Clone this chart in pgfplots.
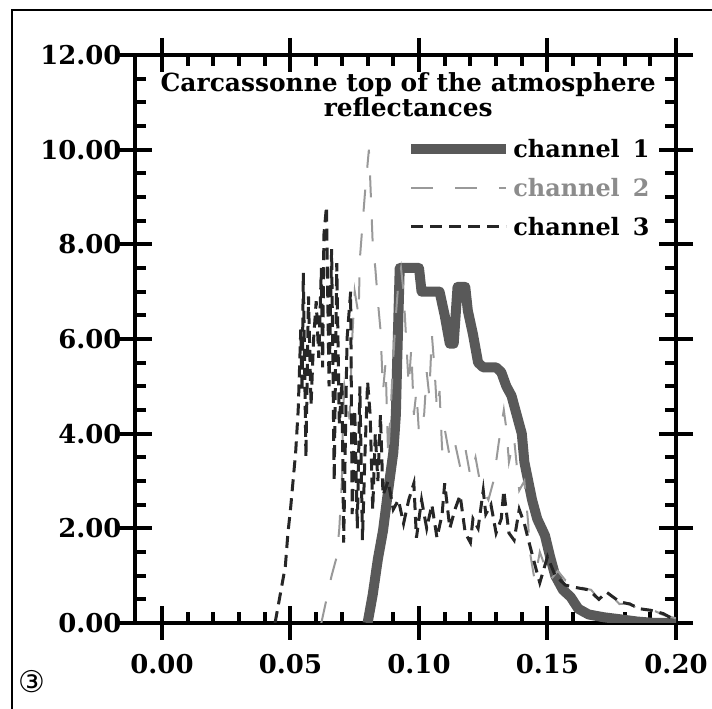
\documentclass[border=0pt]{standalone}
\usepackage{fontspec}
\setmainfont{DejaVu Serif}
\newfontfamily\symfont{DejaVu Sans}
\usepackage{pgfplots}
\pgfplotsset{compat=1.18}
\begin{document}
\begin{tikzpicture}
\useasboundingbox (0bp,0bp) rectangle (712bp,709bp);
\draw[line width=1.5bp] (12bp,0bp) -- (12bp,699bp) -- (712bp,699bp);
\node[font=\symfont\fontsize{30}{30}\selectfont] at (32bp,27bp) {③};
\begin{axis}[
  at={(135bp,86bp)}, anchor=south west, scale only axis,
  width=541bp, height=568bp,
  xmin=-0.0105, xmax=0.2, ymin=0, ymax=12,
  xtick={0,0.05,0.1,0.15,0.2},
  ytick={0,2,4,6,8,10,12},
  minor x tick num=4, minor y tick num=3,
  tick align=inside,
  major tick length=17bp, minor tick length=11bp,
  extra x ticks={0,0.05,0.1,0.15,0.2}, extra x tick labels={},
  extra y ticks={0,2,4,6,8,10,12}, extra y tick labels={},
  extra x tick style={tick align=outside, major tick length=17bp},
  extra y tick style={tick align=outside, major tick length=17bp},
  axis line style={line width=4bp},
  tick style={black, line width=4bp},
  /pgf/number format/assume math mode=true,
  /pgf/number format/fixed, /pgf/number format/fixed zerofill,
  /pgf/number format/precision=2,
  tick label style={font=\bfseries\fontsize{26}{26}\selectfont},
  xticklabel style={yshift=-28bp},
  yticklabel style={xshift=-10bp},
  legend style={draw=none, fill=none, at={(0.955,0.855)}, anchor=north east,
    font=\bfseries\fontsize{24}{24}\selectfont, row sep=15bp, inner sep=0pt,
    /tikz/every even column/.style={column sep=0pt}},
  legend cell align=left,
  legend image code/.code={\draw[#1] (0bp,0bp) -- (95bp,0bp);},
]
\addplot[black!65, line width=10bp, line join=round] coordinates {
(0.080,0) (0.082,0.6) (0.084,1.35) (0.086,1.95) (0.088,2.8) (0.090,3.6)
(0.091,4.4) (0.0915,5.5) (0.092,6.5) (0.0925,7.5) (0.095,7.5) (0.098,7.5)
(0.100,7.5) (0.101,7.0) (0.103,7.0) (0.106,7.0) (0.108,7.0) (0.110,6.5)
(0.112,5.9) (0.1135,5.9) (0.115,7.1) (0.118,7.1) (0.119,6.6) (0.121,6.1)
(0.123,5.5) (0.125,5.4) (0.130,5.4) (0.132,5.3) (0.134,5.0) (0.136,4.8)
(0.138,4.4) (0.140,4.0) (0.141,3.4) (0.1425,3.0) (0.144,2.6) (0.146,2.2)
(0.149,1.85) (0.151,1.4) (0.153,1.0) (0.156,0.7) (0.159,0.55) (0.162,0.3)
(0.166,0.18) (0.172,0.12) (0.178,0.08) (0.185,0.03) (0.192,0.0) (0.200,0.0)
};
\addlegendentry{channel\hspace{13bp}1}
\addplot[black!40, line width=2bp, dash pattern=on 22bp off 22bp] coordinates {
(0.062,0.0) (0.064,0.5) (0.066,1.0) (0.068,1.4) (0.069,2.0) (0.070,3.0)
(0.0705,4.5) (0.071,5.0) (0.073,4.3) (0.074,6.0) (0.075,7.0) (0.0765,6.5)
(0.077,7.7) (0.078,8.4) (0.079,9.1) (0.0805,10.0) (0.081,9.4) (0.082,8.0)
(0.083,7.5) (0.084,6.8) (0.085,6.2) (0.086,4.9) (0.087,5.5) (0.088,3.5)
(0.089,4.5) (0.090,5.6) (0.091,6.5) (0.092,7.2) (0.093,7.5) (0.094,7.0)
(0.095,6.0) (0.096,5.0) (0.097,5.8) (0.098,4.4) (0.099,4.9) (0.100,4.0)
(0.102,4.4) (0.103,5.3) (0.104,4.8) (0.105,6.1) (0.106,5.4) (0.107,4.5)
(0.108,4.9) (0.109,3.65) (0.110,4.1) (0.112,3.5) (0.114,3.8) (0.116,3.3)
(0.118,3.7) (0.120,3.1) (0.122,3.5) (0.124,2.9) (0.127,2.6) (0.129,3.0)
(0.131,3.8) (0.133,4.5) (0.134,4.1) (0.135,3.4) (0.137,3.9) (0.139,2.8)
(0.141,3.0) (0.1425,2.1) (0.143,1.55) (0.145,0.9) (0.147,1.5) (0.149,1.2)
(0.151,0.9) (0.154,1.1) (0.157,0.9) (0.160,0.97) (0.163,0.75) (0.167,0.7)
(0.170,0.5) (0.174,0.63) (0.178,0.4) (0.182,0.42) (0.186,0.25) (0.190,0.3)
(0.195,0.17) (0.200,0.1)
};
\addlegendentry{\textcolor{black!45}{channel\hspace{13bp}2}}
\addplot[black!85, line width=3bp, dash pattern=on 12bp off 7bp] coordinates {
(0.044,0.0) (0.046,0.6) (0.048,1.2) (0.049,1.9) (0.050,2.4) (0.051,3.0)
(0.052,3.6) (0.053,4.5) (0.054,6.2) (0.0545,4.9) (0.055,7.4) (0.056,3.5)
(0.057,6.9) (0.058,4.6) (0.059,6.0) (0.060,6.8) (0.061,5.6) (0.062,7.5)
(0.0625,5.4) (0.063,8.2) (0.064,8.8) (0.065,5.0) (0.066,7.9) (0.067,3.0)
(0.068,7.6) (0.069,4.2) (0.070,5.1) (0.0707,1.7) (0.072,6.0) (0.0734,7.0)
(0.074,2.3) (0.075,4.5) (0.076,2.0) (0.077,5.0) (0.078,1.75) (0.079,3.6)
(0.080,5.1) (0.081,4.4) (0.082,2.4) (0.083,4.0) (0.084,3.0) (0.085,4.4)
(0.086,2.7) (0.088,3.0) (0.090,2.4) (0.092,2.6) (0.094,2.1) (0.096,2.6)
(0.098,2.95) (0.099,1.8) (0.101,2.6) (0.103,2.0) (0.105,2.5) (0.107,1.8)
(0.109,2.3) (0.110,2.95) (0.112,2.0) (0.114,2.4) (0.116,2.7) (0.118,1.9)
(0.120,1.7) (0.121,2.2) (0.123,2.0) (0.125,2.8) (0.126,2.3) (0.128,2.5)
(0.130,1.9) (0.132,2.2) (0.133,2.8) (0.135,1.9) (0.137,1.75) (0.139,2.4)
(0.141,2.1) (0.1426,1.75) (0.145,1.25) (0.147,0.85) (0.150,1.4) (0.153,1.0)
(0.157,0.8) (0.161,0.75) (0.166,0.7) (0.170,0.5) (0.173,0.65) (0.178,0.45)
(0.182,0.4) (0.186,0.3) (0.190,0.27) (0.195,0.2) (0.200,0.05)
};
\addlegendentry{channel\hspace{13bp}3}
\node[anchor=north, align=center, font=\bfseries\fontsize{25}{24}\selectfont]
  at (rel axis cs:0.505,0.975) {Carcassonne top of the atmosphere\\reflectances};
\end{axis}
\end{tikzpicture}
\end{document}
